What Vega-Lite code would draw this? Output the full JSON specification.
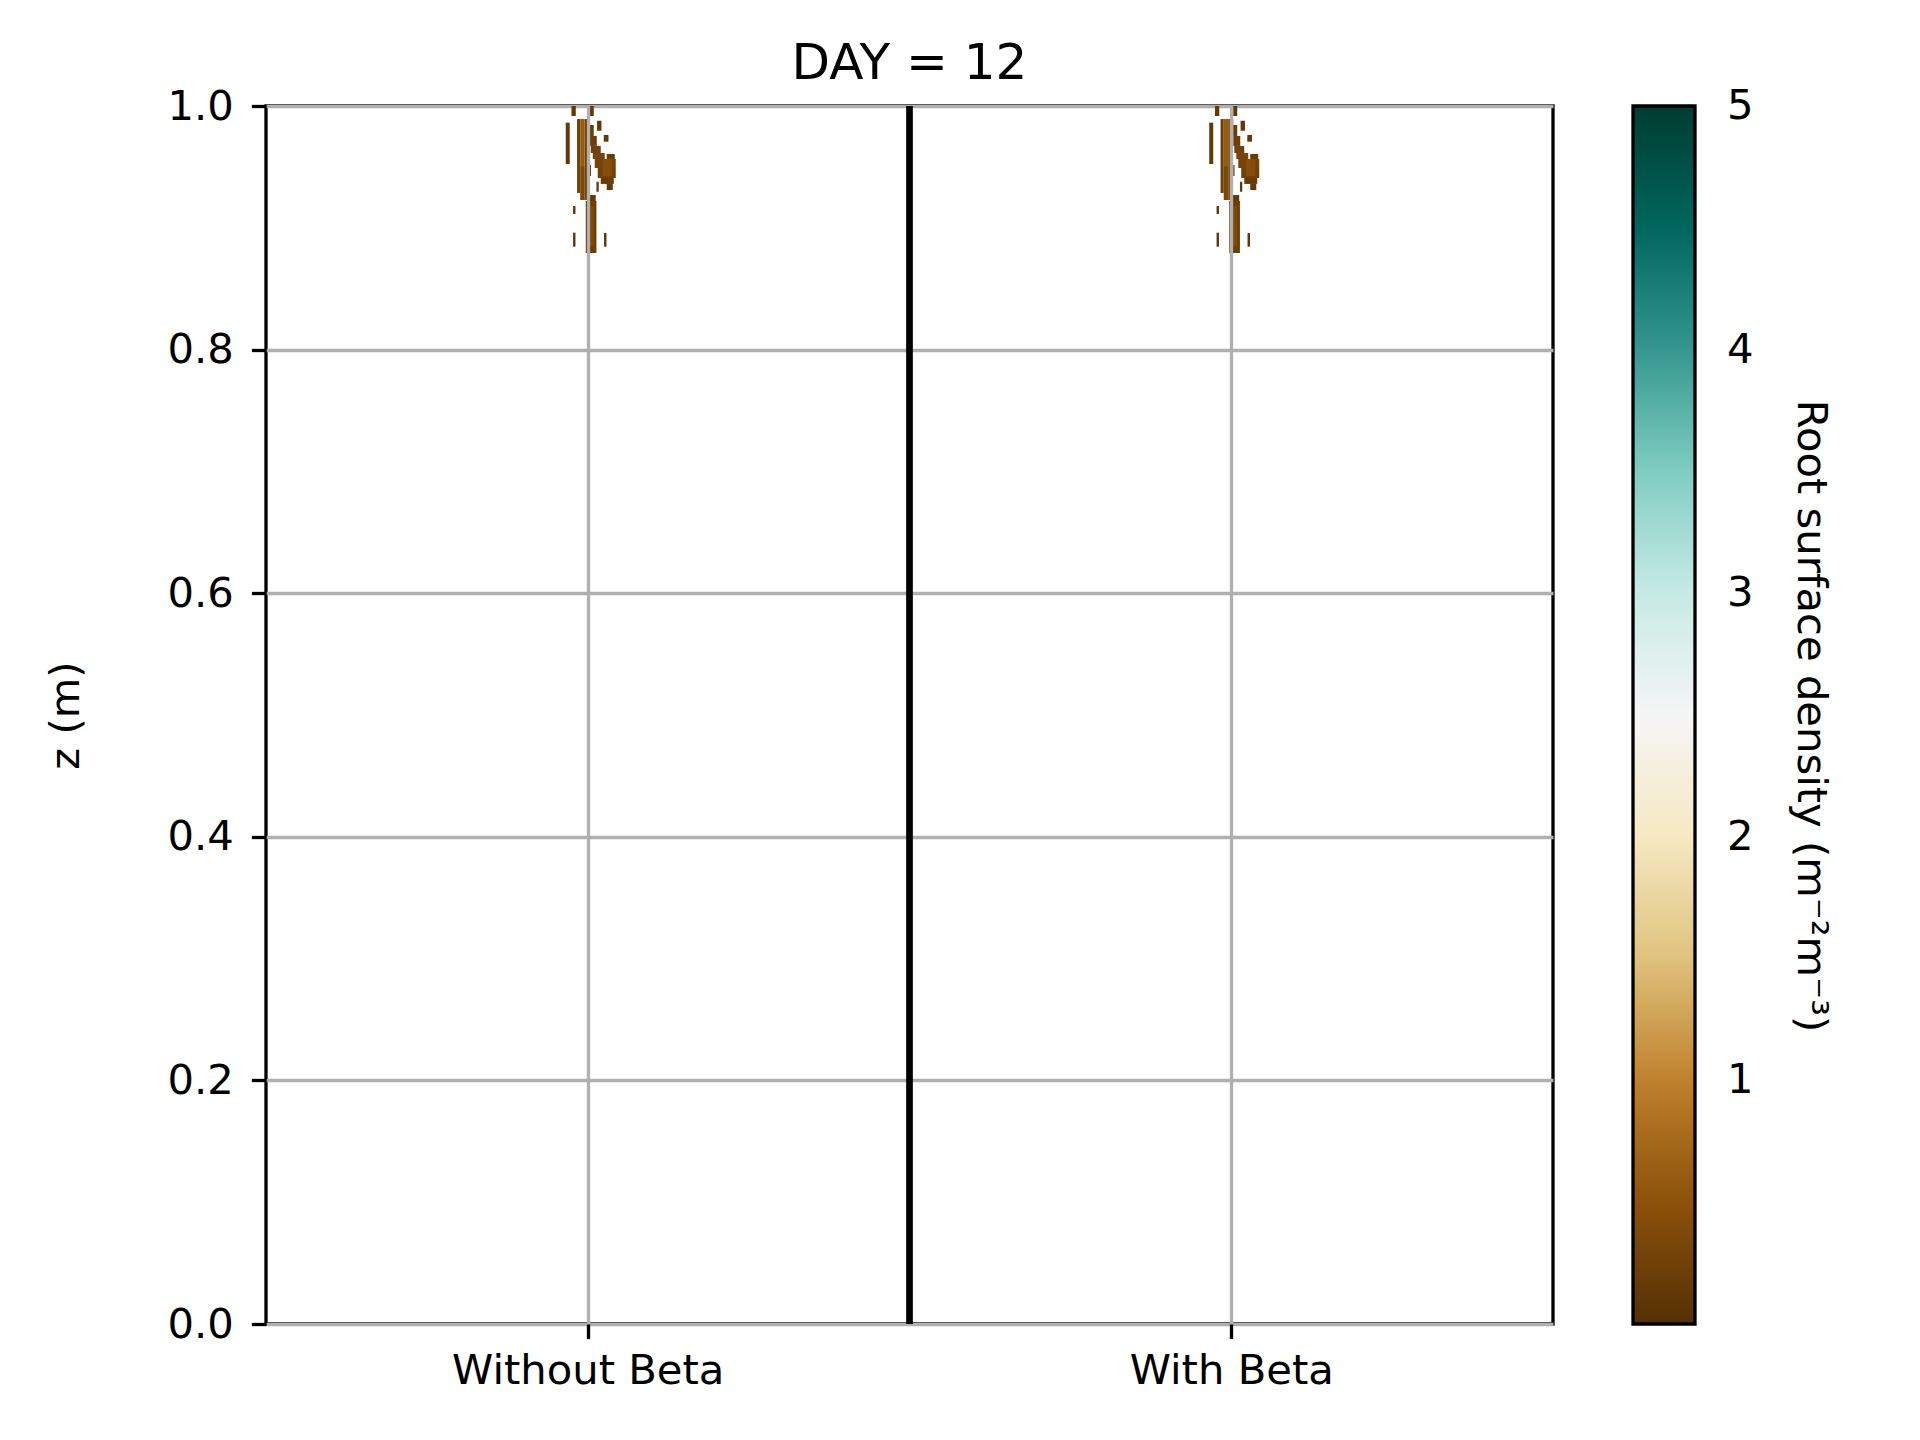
{
  "$schema": "https://vega.github.io/schema/vega-lite/v6.json",
  "autosize": {"type": "none"},
  "padding": {"left": 266, "top": 106, "right": 367, "bottom": 116},
  "width": 1287,
  "height": 1218,
  "background": "white",
  "config": {
    "font": "DejaVu Sans",
    "view": {"stroke": "black", "strokeWidth": 3.3}
  },
  "title": {"text": "DAY = 12", "fontSize": 50, "fontWeight": "normal", "font": "DejaVu Sans", "color": "black", "baseline": "alphabetic", "offset": 24, "dy": 67, "anchor": "middle", "frame": "group"},
  "layer": [
    {
      "data": {"values": [
        {"x": 0.4747, "x2": 0.4814, "y": 0.9918, "y2": 1.0, "d": 0.12},
        {"x": 0.5031, "x2": 0.5093, "y": 0.9918, "y2": 1.0, "d": 0.12},
        {"x": 0.4658, "x2": 0.4720, "y": 0.9524, "y2": 0.9863, "d": 0.12},
        {"x": 0.5145, "x2": 0.5213, "y": 0.9797, "y2": 0.9879, "d": 0.12},
        {"x": 0.5249, "x2": 0.5322, "y": 0.9707, "y2": 0.9762, "d": 0.12},
        {"x": 0.5135, "x2": 0.5171, "y": 0.9296, "y2": 0.9378, "d": 0.12},
        {"x": 0.4772, "x2": 0.4809, "y": 0.9113, "y2": 0.9179, "d": 0.1},
        {"x": 0.4772, "x2": 0.4809, "y": 0.8845, "y2": 0.8960, "d": 0.1},
        {"x": 0.5253, "x2": 0.5291, "y": 0.8845, "y2": 0.8957, "d": 0.1},
        {"x": 0.5031, "x2": 0.5051, "y": 0.9425, "y2": 0.9516, "d": 0.12},
        {"x": 0.4834, "x2": 0.4883, "y": 0.9286, "y2": 0.9893, "d": 0.22},
        {"x": 0.4883, "x2": 0.4953, "y": 0.9228, "y2": 0.9507, "d": 0.35},
        {"x": 0.4953, "x2": 0.5000, "y": 0.9228, "y2": 0.9893, "d": 0.3},
        {"x": 0.4883, "x2": 0.4953, "y": 0.9507, "y2": 0.9893, "d": 0.6},
        {"x": 0.5000, "x2": 0.5031, "y": 0.9754, "y2": 0.9893, "d": 0.22},
        {"x": 0.5031, "x2": 0.5093, "y": 0.9754, "y2": 0.9844, "d": 0.18},
        {"x": 0.5031, "x2": 0.5140, "y": 0.9672, "y2": 0.9754, "d": 0.22},
        {"x": 0.5047, "x2": 0.5202, "y": 0.9614, "y2": 0.9672, "d": 0.26},
        {"x": 0.5078, "x2": 0.5264, "y": 0.9565, "y2": 0.9614, "d": 0.3},
        {"x": 0.5295, "x2": 0.5420, "y": 0.9565, "y2": 0.9606, "d": 0.18},
        {"x": 0.5109, "x2": 0.5435, "y": 0.9491, "y2": 0.9565, "d": 0.3},
        {"x": 0.5155, "x2": 0.5435, "y": 0.9409, "y2": 0.9491, "d": 0.26},
        {"x": 0.5202, "x2": 0.5404, "y": 0.9360, "y2": 0.9409, "d": 0.18},
        {"x": 0.5295, "x2": 0.5389, "y": 0.9310, "y2": 0.9360, "d": 0.14},
        {"x": 0.5233, "x2": 0.5373, "y": 0.9425, "y2": 0.9565, "d": 0.45},
        {"x": 0.5016, "x2": 0.5124, "y": 0.9220, "y2": 0.9269, "d": 0.14},
        {"x": 0.4969, "x2": 0.5135, "y": 0.8793, "y2": 0.9220, "d": 0.22},
        {"x": 0.5016, "x2": 0.5093, "y": 0.8851, "y2": 0.9179, "d": 0.4},
        {"x": 1.4747, "x2": 1.4814, "y": 0.9918, "y2": 1.0, "d": 0.12},
        {"x": 1.5031, "x2": 1.5093, "y": 0.9918, "y2": 1.0, "d": 0.12},
        {"x": 1.4658, "x2": 1.4720, "y": 0.9524, "y2": 0.9863, "d": 0.12},
        {"x": 1.5145, "x2": 1.5213, "y": 0.9797, "y2": 0.9879, "d": 0.12},
        {"x": 1.5249, "x2": 1.5322, "y": 0.9707, "y2": 0.9762, "d": 0.12},
        {"x": 1.5135, "x2": 1.5171, "y": 0.9296, "y2": 0.9378, "d": 0.12},
        {"x": 1.4772, "x2": 1.4809, "y": 0.9113, "y2": 0.9179, "d": 0.1},
        {"x": 1.4772, "x2": 1.4809, "y": 0.8845, "y2": 0.8960, "d": 0.1},
        {"x": 1.5253, "x2": 1.5291, "y": 0.8845, "y2": 0.8957, "d": 0.1},
        {"x": 1.5031, "x2": 1.5051, "y": 0.9425, "y2": 0.9516, "d": 0.12},
        {"x": 1.4834, "x2": 1.4883, "y": 0.9286, "y2": 0.9893, "d": 0.22},
        {"x": 1.4883, "x2": 1.4953, "y": 0.9228, "y2": 0.9507, "d": 0.35},
        {"x": 1.4953, "x2": 1.5000, "y": 0.9228, "y2": 0.9893, "d": 0.3},
        {"x": 1.4883, "x2": 1.4953, "y": 0.9507, "y2": 0.9893, "d": 0.6},
        {"x": 1.5000, "x2": 1.5031, "y": 0.9754, "y2": 0.9893, "d": 0.22},
        {"x": 1.5031, "x2": 1.5093, "y": 0.9754, "y2": 0.9844, "d": 0.18},
        {"x": 1.5031, "x2": 1.5140, "y": 0.9672, "y2": 0.9754, "d": 0.22},
        {"x": 1.5047, "x2": 1.5202, "y": 0.9614, "y2": 0.9672, "d": 0.26},
        {"x": 1.5078, "x2": 1.5264, "y": 0.9565, "y2": 0.9614, "d": 0.3},
        {"x": 1.5295, "x2": 1.5420, "y": 0.9565, "y2": 0.9606, "d": 0.18},
        {"x": 1.5109, "x2": 1.5435, "y": 0.9491, "y2": 0.9565, "d": 0.3},
        {"x": 1.5155, "x2": 1.5435, "y": 0.9409, "y2": 0.9491, "d": 0.26},
        {"x": 1.5202, "x2": 1.5404, "y": 0.9360, "y2": 0.9409, "d": 0.18},
        {"x": 1.5295, "x2": 1.5389, "y": 0.9310, "y2": 0.9360, "d": 0.14},
        {"x": 1.5233, "x2": 1.5373, "y": 0.9425, "y2": 0.9565, "d": 0.45},
        {"x": 1.5016, "x2": 1.5124, "y": 0.9220, "y2": 0.9269, "d": 0.14},
        {"x": 1.4969, "x2": 1.5135, "y": 0.8793, "y2": 0.9220, "d": 0.22},
        {"x": 1.5016, "x2": 1.5093, "y": 0.8851, "y2": 0.9179, "d": 0.4}
      ]},
      "mark": {"type": "rect", "strokeWidth": 0},
      "encoding": {
        "x": {
          "field": "x", "type": "quantitative",
          "scale": {"domain": [0, 2], "nice": false, "zero": false},
          "axis": {
            "values": [0.5, 1.5],
            "labelExpr": "datum.value < 1 ? 'Without Beta' : 'With Beta'",
            "labelLimit": 0,
            "title": null,
            "grid": true, "gridColor": "#b0b0b0", "gridWidth": 3.3,
            "domain": false,
            "ticks": true, "tickSize": 14.6, "tickWidth": 3.3, "tickColor": "black",
            "labelFont": "DejaVu Sans", "labelFontSize": 41.7, "labelColor": "black",
            "labelPadding": 12,
            "zindex": 1
          }
        },
        "x2": {"field": "x2"},
        "y": {
          "field": "y", "type": "quantitative",
          "scale": {"domain": [0, 1], "nice": false, "zero": false},
          "axis": {
            "values": [0, 0.2, 0.4, 0.6, 0.8, 1.0],
            "format": ".1f",
            "title": "z (m)",
            "titleFont": "DejaVu Sans", "titleFontSize": 41.7, "titleFontWeight": "normal", "titleColor": "black",
            "titlePadding": 80,
            "grid": true, "gridColor": "#b0b0b0", "gridWidth": 3.3,
            "domain": false,
            "ticks": true, "tickSize": 14.6, "tickWidth": 3.3, "tickColor": "black",
            "labelFont": "DejaVu Sans", "labelFontSize": 41.7, "labelColor": "black",
            "labelPadding": 18,
            "zindex": 0
          }
        },
        "y2": {"field": "y2"},
        "color": {
          "field": "d", "type": "quantitative",
          "scale": {
            "domain": [0, 0.5, 1, 1.5, 2, 2.5, 3, 3.5, 4, 4.5, 5.001],
            "range": ["#543005", "#8c510a", "#bf812d", "#dfc27d", "#f6e8c3", "#f5f5f5", "#c7eae5", "#80cdc1", "#35978f", "#01665e", "#003c30"],
            "interpolate": "rgb"
          },
          "legend": {
            "orient": "none", "legendX": 1367, "legendY": 0,
            "direction": "vertical",
            "gradientLength": 1218, "gradientThickness": 62,
            "gradientStrokeColor": "black", "gradientStrokeWidth": 3.3,
            "values": [1, 2, 3, 4, 5],
            "format": "d",
            "labelFont": "DejaVu Sans", "labelFontSize": 41.7, "labelColor": "black",
            "labelOffset": 32, "labelBaseline": "middle",
            "title": "Root surface density (m⁻²m⁻³)",
            "titleLimit": 0,
            "titleOrient": "right", "titleAngle": 90, "titleAnchor": "middle",
            "titleFont": "DejaVu Sans", "titleFontSize": 41.7, "titleFontWeight": "normal", "titleColor": "black",
            "titlePadding": 35
          }
        }
      }
    },
    {
      "data": {"values": [{"c": 1}]},
      "mark": {"type": "rule", "color": "black", "strokeWidth": 6.7},
      "encoding": {"x": {"field": "c", "type": "quantitative"}}
    }
  ]
}
